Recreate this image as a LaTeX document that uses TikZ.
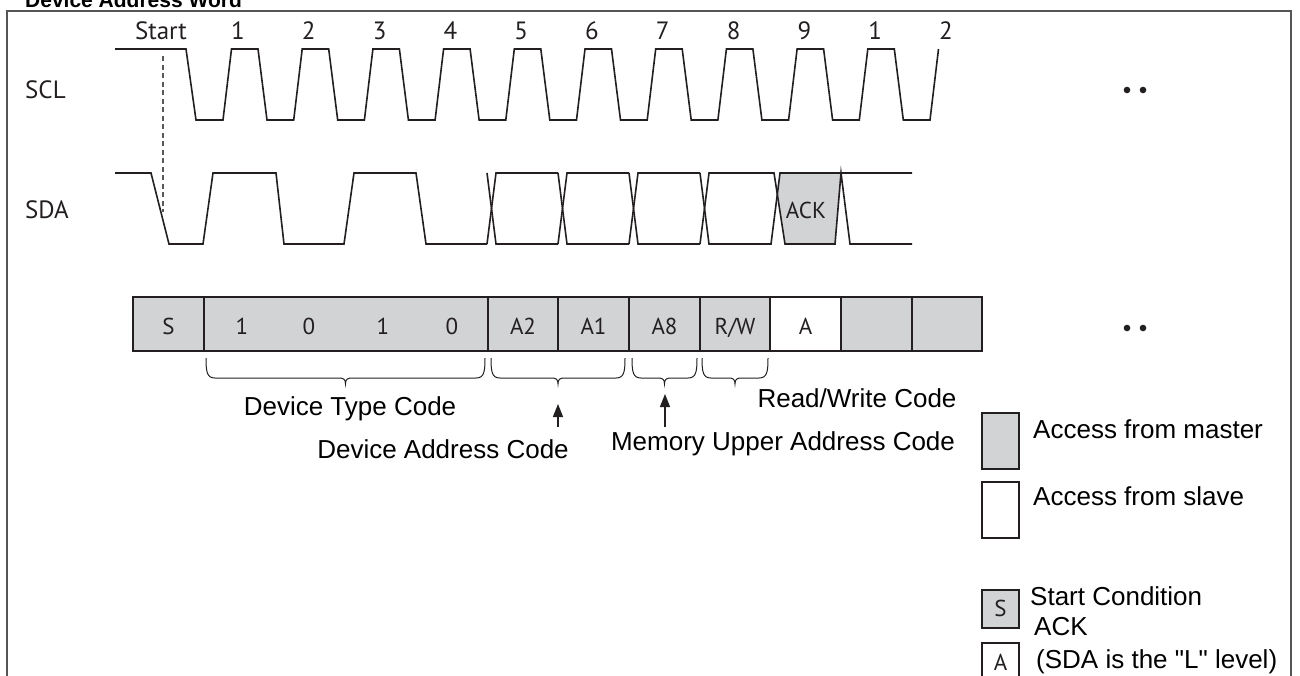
\documentclass[tikz,border=0pt]{standalone}
\usepackage{fontspec}
\setmainfont{Liberation Sans}
\newfontfamily\ari{Liberation Sans}
\newfontfamily\myr{PT Sans}
\usetikzlibrary{arrows.meta}
\definecolor{gfill}{HTML}{D1D3D4}
\definecolor{ink}{HTML}{231F20}
\definecolor{framec}{HTML}{555555}
\newcommand\ubrace[4]{%
  \pgfmathsetmacro\bm{(#1+#2)/2}%
  \draw[brc] (#1,#3) .. controls (#1,#3+14) and (#1+1,#3+20) .. (#1+9,#3+20)
     -- (\bm-7,#3+20) .. controls (\bm-2,#3+20) and (\bm,#3+21) .. (\bm,#3+26)
     .. controls (\bm,#3+21) and (\bm+2,#3+20) .. (\bm+7,#3+20)
     -- (#2-9,#3+20) .. controls (#2-1,#3+20) and (#2,#3+14) .. (#2,#3);
  \coordinate (#4) at (\bm,#3+26);}
\begin{document}
\begin{tikzpicture}[x=1pt,y=-1pt,
  wave/.style={draw=ink, line width=1.6pt, line join=miter},
  lbl/.style={font=\myr\fontsize{25}{30}\selectfont, text=ink, inner sep=0pt},
  cellt/.style={font=\myr\fontsize{23}{28}\selectfont, text=ink, inner sep=0pt, anchor=base},
  cell/.style={draw=ink, line width=2pt, fill=gfill, minimum height=54pt, inner sep=0pt, outer sep=0pt},
  atxt/.style={font=\ari\fontsize{26}{31}\selectfont, text=black, inner sep=0pt},
  brc/.style={draw=ink, line width=1pt},
  arr/.style={draw=ink, line width=1.2pt, -{Triangle[length=13pt,width=10pt]}},
  lbox/.style={draw=ink, line width=2pt, inner sep=0pt, outer sep=0pt},
]
\useasboundingbox (0,0) rectangle (1300,675);
% title (cut at top, as in the reference) and frame
\node[font=\ari\bfseries\fontsize{21}{25}\selectfont, anchor=base west, inner sep=0pt] (title) at (25,7) {Device Address Word};
\draw[framec, line width=2pt] (7,700) -- (7,11) -- (1291,11) -- (1291,700);

% signal labels
\node[lbl, anchor=base west] (scl) at (25,98) {SCL};
\node[lbl, anchor=base west] (sda) at (25,218) {SDA};
\node[lbl, anchor=base] (start) at (161,39.5) {Start};
\foreach \k/\t in {0/1,1/2,2/3,3/4,4/5,5/6,6/7,7/8,8/9,9/1,10/2}
  \node[lbl, anchor=base] (n\k) at ({238+\k*70.8},39.5) {\t};

% SCL
\draw[wave] (115,49) -- (186,49) -- (196,120)
  foreach \k in {0,...,9} { -- ({223+\k*70.7},120) -- ({231.5+\k*70.7},49) -- ({258+\k*70.7},49) -- ({267+\k*70.7},120) }
  -- (930,120) -- (938.5,49);

% start dashed marker
\coordinate (d1) at (163,56);
\coordinate (d2) at (163,212);
\draw[ink!75, line width=1.2pt, dash pattern=on 5pt off 3.5pt] (d1) -- (d2);

% SDA
\draw[wave] (115,173) -- (151,173) -- (169,244) -- (203,244) -- (213,173) -- (276,173) -- (284,244)
  -- (344,244) -- (354,173) -- (416,173) -- (426,244) -- (487,244);
\foreach \c in {487,558,629} {
  \draw[wave] (\c,244) -- (\c+9,173) -- (\c+71,173);
  \draw[wave] (\c,173) -- (\c+9,244) -- (\c+71,244);
}
\fill[gfill] (777.3,194.3) -- (780,173) -- (841,173) -- (835,244) -- (785,244) -- cycle;
\draw[wave] (700,244) -- (709,173) -- (774,173) -- (785,244) -- (835,244) -- (841,173) -- (850,244) -- (912,244);
\draw[wave] (700,173) -- (709,244) -- (771,244) -- (780,173) -- (912,173);
\node[cellt] (ack) at (806,218) {ACK};

% dots
\fill[ink] (1127,90) circle (3.3);
\fill[ink] (1143,90) circle (3.3);
\fill[ink] (1127,328) circle (3.3);
\fill[ink] (1143,328) circle (3.3);

% bit bar
\node[cell, minimum width=71pt] (cS) at (168.5,324) {};
\node[cell, minimum width=284pt] (cB) at (346,324) {};
\node[cell, minimum width=70pt] (cA2) at (523,324) {};
\node[cell, minimum width=71pt] (cA1) at (593.5,324) {};
\node[cell, minimum width=71pt] (cA8) at (664.5,324) {};
\node[cell, minimum width=70pt] (cRW) at (735,324) {};
\node[cell, minimum width=71pt, fill=white] (cA) at (805.5,324) {};
\node[cell, minimum width=71pt] (cE1) at (876.5,324) {};
\node[cell, minimum width=70pt] (cE2) at (947,324) {};
\node[cellt] (tS) at (168.5,334) {S};
\node[cellt] (b1) at (242,334) {1};
\node[cellt] (b2) at (309,334) {0};
\node[cellt] (b3) at (383,334) {1};
\node[cellt] (b4) at (452,334) {0};
\node[cellt] (tA2) at (523,334) {A2};
\node[cellt] (tA1) at (593.5,334) {A1};
\node[cellt] (tA8) at (664.5,334) {A8};
\node[cellt] (tRW) at (735,334) {R/W};
\node[cellt] (tA) at (805.5,334) {A};

% braces
\ubrace{206}{485}{358}{brDT}
\ubrace{491}{625}{358}{brDA}
\ubrace{632}{697}{358}{brMU}
\ubrace{702}{768}{358}{brRW}

% arrows
\coordinate (daFoot) at (558,427);
\coordinate (daHead) at (558,404);
\coordinate (muFoot) at (665,427);
\coordinate (muHead) at (665,394);
\draw[arr] (daFoot) -- (daHead);
\draw[arr] (muFoot) -- (muHead);

% code labels
\node[atxt, anchor=base] (lDT) at (350,415) {Device Type Code};
\node[atxt, anchor=base] (lDA) at (443,458) {Device Address Code};
\node[atxt, anchor=base] (lMU) at (783,450) {Memory Upper Address Code};
\node[atxt, anchor=base] (lRW) at (857,407) {Read/Write Code};

% legend
\node[lbox, fill=gfill, minimum width=37pt, minimum height=56pt] (kM) at (1000.5,441) {};
\node[lbox, fill=white, minimum width=37pt, minimum height=56pt] (kSl) at (1000.5,510) {};
\node[atxt, anchor=base west] (tM) at (1033,438) {Access from master};
\node[atxt, anchor=base west] (tSl) at (1033,505) {Access from slave};
\node[lbox, fill=gfill, minimum width=37pt, minimum height=38pt] (kS) at (1000.5,609) {};
\node[cellt] (kSt) at (1000.5,616) {S};
\node[atxt, anchor=base west] (tSC) at (1030,605) {Start Condition};
\node[atxt, anchor=base west] (tACK) at (1034,635) {ACK};
\node[lbox, fill=white, minimum width=37pt, minimum height=40pt] (kA) at (1000.5,663) {};
\node[cellt] (kAt) at (1000.5,670) {A};
\node[atxt, anchor=base west] (tL) at (1036,668) {(SDA is the "L" level)};
\end{tikzpicture}
\end{document}
